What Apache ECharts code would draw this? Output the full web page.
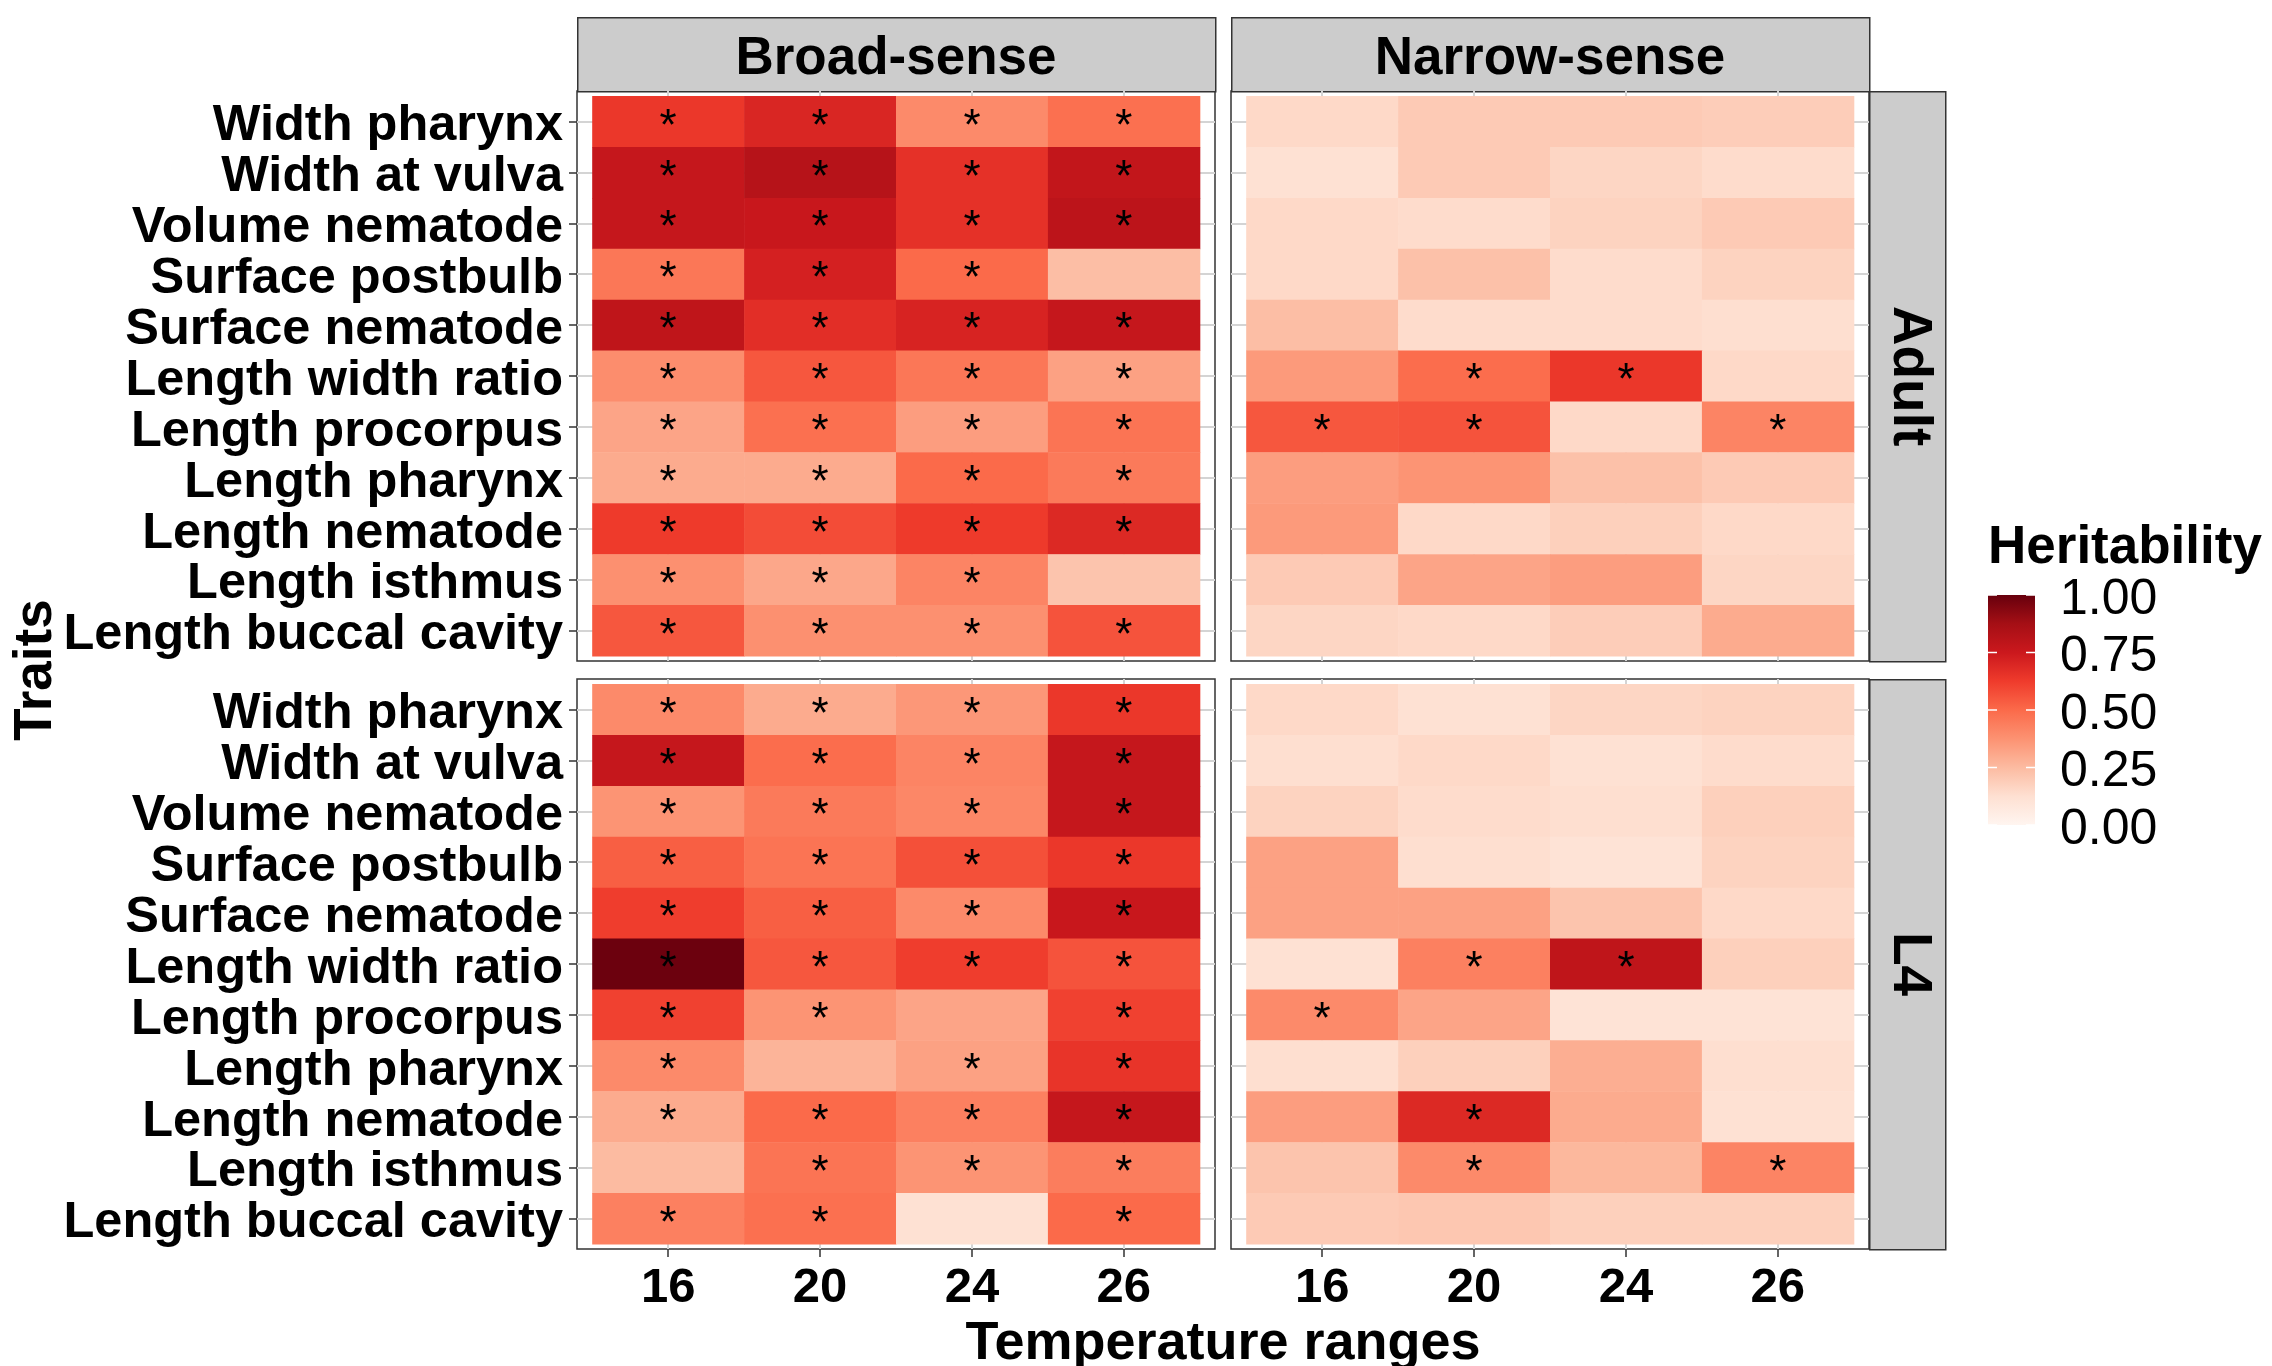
<!DOCTYPE html>
<html>
<head>
<meta charset="utf-8">
<script src="https://cdn.jsdelivr.net/npm/echarts@6/dist/echarts.min.js"></script>
<style>
  html, body { margin: 0; padding: 0; background: #ffffff; }
  #chart { width: 2272px; height: 1366px; }
</style>
</head>
<body>
<div id="chart"></div>
<script>
// ---- data -------------------------------------------------------------
const temperatures = ['16', '20', '24', '26'];
const traits = [
  'Width pharynx', 'Width at vulva', 'Volume nematode', 'Surface postbulb',
  'Surface nematode', 'Length width ratio', 'Length procorpus', 'Length pharynx',
  'Length nematode', 'Length isthmus', 'Length buccal cavity'
];
const senses = ['Broad-sense', 'Narrow-sense'];
const stages = ['Adult', 'L4'];

// heritability per trait (rows) and temperature (columns)
const broadAdult = [
  [0.64, 0.70, 0.40, 0.48],
  [0.77, 0.82, 0.66, 0.78],
  [0.77, 0.76, 0.66, 0.80],
  [0.46, 0.72, 0.50, 0.24],
  [0.79, 0.67, 0.71, 0.77],
  [0.39, 0.55, 0.46, 0.33],
  [0.32, 0.48, 0.34, 0.47],
  [0.30, 0.30, 0.50, 0.45],
  [0.63, 0.58, 0.63, 0.69],
  [0.38, 0.31, 0.42, 0.22],
  [0.55, 0.38, 0.38, 0.56]
];
const narrowAdult = [
  [0.15, 0.20, 0.20, 0.19],
  [0.12, 0.20, 0.16, 0.14],
  [0.15, 0.14, 0.17, 0.20],
  [0.15, 0.23, 0.14, 0.17],
  [0.24, 0.14, 0.14, 0.13],
  [0.35, 0.49, 0.64, 0.15],
  [0.55, 0.56, 0.15, 0.42],
  [0.34, 0.37, 0.23, 0.20],
  [0.35, 0.15, 0.18, 0.15],
  [0.20, 0.32, 0.34, 0.16],
  [0.16, 0.15, 0.19, 0.30]
];
const broadL4 = [
  [0.40, 0.30, 0.36, 0.64],
  [0.77, 0.49, 0.42, 0.77],
  [0.37, 0.45, 0.41, 0.77],
  [0.53, 0.47, 0.57, 0.64],
  [0.62, 0.53, 0.40, 0.76],
  [0.99, 0.55, 0.62, 0.56],
  [0.61, 0.37, 0.32, 0.61],
  [0.40, 0.27, 0.33, 0.65],
  [0.30, 0.50, 0.43, 0.77],
  [0.25, 0.47, 0.37, 0.44],
  [0.43, 0.48, 0.12, 0.50]
];
const narrowL4 = [
  [0.15, 0.12, 0.16, 0.17],
  [0.13, 0.15, 0.12, 0.14],
  [0.17, 0.14, 0.13, 0.18],
  [0.33, 0.13, 0.11, 0.17],
  [0.33, 0.33, 0.22, 0.15],
  [0.12, 0.43, 0.79, 0.18],
  [0.40, 0.32, 0.11, 0.11],
  [0.13, 0.18, 0.29, 0.13],
  [0.34, 0.69, 0.30, 0.12],
  [0.22, 0.40, 0.26, 0.42],
  [0.20, 0.21, 0.18, 0.18]
];

// 1 = significant (marked with an asterisk)
const broadAdultSig = [
  [1,1,1,1],[1,1,1,1],[1,1,1,1],[1,1,1,0],[1,1,1,1],[1,1,1,1],
  [1,1,1,1],[1,1,1,1],[1,1,1,1],[1,1,1,0],[1,1,1,1]
];
const narrowAdultSig = [
  [0,0,0,0],[0,0,0,0],[0,0,0,0],[0,0,0,0],[0,0,0,0],[0,1,1,0],
  [1,1,0,1],[0,0,0,0],[0,0,0,0],[0,0,0,0],[0,0,0,0]
];
const broadL4Sig = [
  [1,1,1,1],[1,1,1,1],[1,1,1,1],[1,1,1,1],[1,1,1,1],[1,1,1,1],
  [1,1,0,1],[1,0,1,1],[1,1,1,1],[0,1,1,1],[1,1,0,1]
];
const narrowL4Sig = [
  [0,0,0,0],[0,0,0,0],[0,0,0,0],[0,0,0,0],[0,0,0,0],[0,1,1,0],
  [1,0,0,0],[0,0,0,0],[0,1,0,0],[0,1,0,1],[0,0,0,0]
];

const legendTicks = [0, 0.25, 0.5, 0.75, 1];
const reds = ['#fff5f0', '#fee0d2', '#fcbba1', '#fc9272', '#fb6a4a',
              '#ef3b2c', '#cb181d', '#a50f15', '#67000d'];

// ---- layout -----------------------------------------------------------
const FONT = '"Liberation Sans", Arial, Helvetica, sans-serif';
const colLeft = [577, 1231];
const colWidth = 638;
const rowTop = [91, 679];
const rowHeight = 570;
const stripTop = 17;
const stripRightWidth = 76;

// panels in order: Broad/Adult, Narrow/Adult, Broad/L4, Narrow/L4
const panels = [
  { values: broadAdult,  sig: broadAdultSig,  col: 0, row: 0 },
  { values: narrowAdult, sig: narrowAdultSig, col: 1, row: 0 },
  { values: broadL4,     sig: broadL4Sig,     col: 0, row: 1 },
  { values: narrowL4,    sig: narrowL4Sig,    col: 1, row: 1 }
];

const tempIdx = temperatures.map((_, i) => i + 1);
const traitIdx = traits.map((_, i) => i + 1);

function panelData(values, sig) {
  const out = [];
  values.forEach((row, r) => {
    row.forEach((v, c) => out.push([c + 1, r + 1, v, sig[r][c]]));
  });
  return out;
}

function renderCell(params, api) {
  const x = api.value(0), y = api.value(1);
  const a = api.coord([x - 0.5, y - 0.5]);
  const b = api.coord([x + 0.5, y + 0.5]);
  const children = [{
    type: 'rect',
    shape: {
      x: Math.min(a[0], b[0]), y: Math.min(a[1], b[1]),
      width: Math.abs(b[0] - a[0]) + 0.5, height: Math.abs(b[1] - a[1]) + 0.5
    },
    style: { fill: api.visual('color') }
  }];
  if (api.value(3)) {
    const c = api.coord([x, y]);
    children.push({
      type: 'text',
      z2: 10,
      style: {
        text: '*', x: c[0], y: c[1] + 6,
        align: 'center', verticalAlign: 'middle',
        font: '44px ' + FONT, fill: '#000000'
      }
    });
  }
  return { type: 'group', children };
}

const grids = panels.map(p => ({
  left: colLeft[p.col], top: rowTop[p.row], width: colWidth, height: rowHeight,
  show: true, borderColor: '#333333', borderWidth: 1.5, backgroundColor: '#ffffff',
  containLabel: false
}));

const xAxes = panels.map((p, i) => ({
  gridIndex: i, type: 'value', min: 0.4, max: 4.6,
  axisLine: { show: false },
  axisTick: {
    show: p.row === 1, customValues: tempIdx, length: 8,
    lineStyle: { color: '#333333', width: 1.5 }
  },
  axisLabel: {
    show: p.row === 1, customValues: tempIdx, margin: 15,
    formatter: v => temperatures[v - 1],
    fontSize: 49, fontWeight: 'bold', color: '#000000', fontFamily: FONT
  },
  splitLine: { show: true, lineStyle: { color: '#d4d4d4', width: 2 } }
}));

const yAxes = panels.map((p, i) => ({
  gridIndex: i, type: 'value', min: 0.4, max: 11.6, inverse: true,
  axisLine: { show: false },
  axisTick: {
    show: p.col === 0, customValues: traitIdx, length: 8,
    lineStyle: { color: '#333333', width: 1.5 }
  },
  axisLabel: {
    show: p.col === 0, customValues: traitIdx, margin: 14,
    verticalAlign: 'top', lineHeight: 10,
    formatter: v => traits[v - 1],
    fontSize: 50.5, fontWeight: 'bold', color: '#000000', fontFamily: FONT
  },
  splitLine: { show: true, lineStyle: { color: '#d4d4d4', width: 2 } }
}));

const series = panels.map((p, i) => ({
  type: 'custom', xAxisIndex: i, yAxisIndex: i,
  renderItem: renderCell,
  encode: { x: 0, y: 1 },
  data: panelData(p.values, p.sig),
  animation: false
}));

// ---- strips, titles and colour bar -------------------------------------
const graphics = [];
senses.forEach((name, c) => {
  graphics.push({
    type: 'rect', left: colLeft[c], top: stripTop,
    shape: { width: colWidth, height: rowTop[0] - stripTop },
    style: { fill: '#cccccc', stroke: '#333333', lineWidth: 1.5 }
  });
  graphics.push({
    type: 'text', x: colLeft[c] + colWidth / 2, y: (stripTop + rowTop[0]) / 2 + 5,
    style: { text: name, align: 'center', verticalAlign: 'middle',
             font: 'bold 53px ' + FONT, fill: '#000000' }
  });
});
stages.forEach((name, r) => {
  const x0 = colLeft[1] + colWidth;
  graphics.push({
    type: 'rect', left: x0, top: rowTop[r],
    shape: { width: stripRightWidth, height: rowHeight },
    style: { fill: '#cccccc', stroke: '#333333', lineWidth: 1.5 }
  });
  graphics.push({
    type: 'text', x: x0 + stripRightWidth / 2 + 2, y: rowTop[r] + rowHeight / 2,
    rotation: -Math.PI / 2,
    style: { text: name, align: 'center', verticalAlign: 'middle',
             font: 'bold 55px ' + FONT, fill: '#000000' }
  });
});
graphics.push({
  type: 'text', x: (colLeft[0] + colLeft[1] + colWidth) / 2, y: 1344,
  style: { text: 'Temperature ranges', align: 'center', verticalAlign: 'middle',
           font: 'bold 54px ' + FONT, fill: '#000000' }
});
graphics.push({
  type: 'text', x: 36, y: (rowTop[0] + rowTop[1] + rowHeight) / 2,
  rotation: Math.PI / 2,
  style: { text: 'Traits', align: 'center', verticalAlign: 'middle',
           font: 'bold 53px ' + FONT, fill: '#000000' }
});

// colour bar
const barX = 1988, barTop = 595, barW = 47, barH = 230;
graphics.push({
  type: 'text', x: barX, y: 548,
  style: { text: 'Heritability', align: 'left', verticalAlign: 'middle',
           font: 'bold 53px ' + FONT, fill: '#000000' }
});
graphics.push({
  type: 'rect', left: barX, top: barTop,
  shape: { width: barW, height: barH },
  style: {
    fill: {
      type: 'linear', x: 0, y: 1, x2: 0, y2: 0,
      colorStops: reds.map((c, i) => ({ offset: i / (reds.length - 1), color: c }))
    }
  }
});
legendTicks.forEach(t => {
  const y = barTop + barH * (1 - t);
  graphics.push({ type: 'line', shape: { x1: barX, y1: y, x2: barX + 9, y2: y },
                  style: { stroke: '#ffffff', lineWidth: 1.5 } });
  graphics.push({ type: 'line', shape: { x1: barX + barW - 9, y1: y, x2: barX + barW, y2: y },
                  style: { stroke: '#ffffff', lineWidth: 1.5 } });
  graphics.push({
    type: 'text', x: 2060, y: y + 5,
    style: { text: t.toFixed(2), align: 'left', verticalAlign: 'middle',
             font: '50px ' + FONT, fill: '#000000' }
  });
});

const chart = echarts.init(document.getElementById('chart'), null, { renderer: 'canvas' });
chart.setOption({
  backgroundColor: '#ffffff',
  animation: false,
  grid: grids,
  xAxis: xAxes,
  yAxis: yAxes,
  visualMap: {
    type: 'continuous', show: false, min: 0, max: 1, dimension: 2,
    seriesIndex: [0, 1, 2, 3],
    inRange: { color: reds }
  },
  series: series,
  graphic: graphics
});
</script>
</body>
</html>
